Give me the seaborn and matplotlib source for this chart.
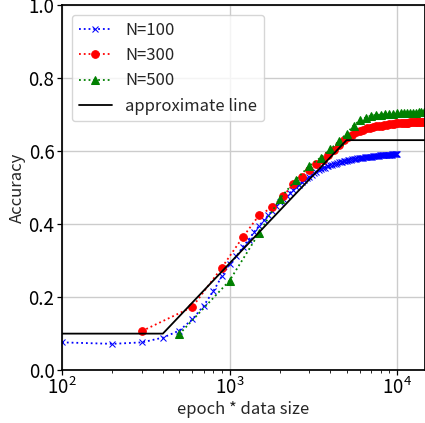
import numpy as np
import pandas as pd
import seaborn as sns
import matplotlib
matplotlib.use("Agg")
import matplotlib.pyplot as plt

# Estilo
sns.set_theme(style="ticks")
plt.rcParams['font.family'] = ['Noto Sans CJK JP', 'DejaVu Sans']

# Dados (accuracy por epoch, N = tamanho dos dados)
acc_n100 = [
    0.076, 0.072, 0.076, 0.089, 0.108, 0.139, 0.176, 0.216, 0.257, 0.290,
    0.312, 0.338, 0.357, 0.378, 0.395, 0.410, 0.424, 0.437, 0.449, 0.460,
    0.469, 0.478, 0.486, 0.494, 0.501, 0.508, 0.514, 0.520, 0.525, 0.530,
    0.535, 0.539, 0.543, 0.547, 0.550, 0.553, 0.555, 0.558, 0.560, 0.562,
    0.563, 0.565, 0.566, 0.567, 0.569, 0.570, 0.571, 0.572, 0.573, 0.574,
    0.575, 0.576, 0.576, 0.577, 0.578, 0.578, 0.579, 0.580, 0.580, 0.581,
    0.581, 0.582, 0.582, 0.583, 0.583, 0.583, 0.584, 0.584, 0.585, 0.585,
    0.585, 0.586, 0.586, 0.586, 0.587, 0.587, 0.587, 0.587, 0.588, 0.588,
    0.588, 0.588, 0.589, 0.589, 0.589, 0.589, 0.589, 0.590, 0.590, 0.590,
    0.590, 0.590, 0.590, 0.591, 0.591, 0.591, 0.591, 0.591, 0.591, 0.592,
]
acc_n300 = [
    0.107, 0.173, 0.281, 0.364, 0.424, 0.446, 0.478, 0.509, 0.530, 0.548,
    0.564, 0.576, 0.590, 0.604, 0.618, 0.630, 0.638, 0.645, 0.651, 0.656,
    0.659, 0.662, 0.664, 0.666, 0.668, 0.669, 0.670, 0.671, 0.672, 0.673,
    0.674, 0.675, 0.676, 0.676, 0.677, 0.677, 0.678, 0.678, 0.678, 0.679,
    0.679, 0.679, 0.680, 0.680, 0.680, 0.680, 0.681, 0.681,
]
acc_n500 = [
    0.098, 0.245, 0.375, 0.470, 0.522, 0.560, 0.582, 0.605, 0.627, 0.648,
    0.670, 0.684, 0.692, 0.697, 0.699, 0.700, 0.701, 0.702, 0.702, 0.703,
    0.703, 0.704, 0.704, 0.705, 0.705, 0.705, 0.706, 0.706, 0.706,
]
approx_x = [100, 400, 5000, 20000]
approx_y = [0.10, 0.10, 0.63, 0.63]

series = [
    (100, acc_n100, "blue", "x", 5),
    (300, acc_n300, "red", "o", 5.5),
    (500, acc_n500, "green", "^", 5.5),
]

fig, ax = plt.subplots(figsize=(4.25, 4.23), dpi=100)
fig.subplots_adjust(left=0.146, right=1.0, top=0.988, bottom=0.125)

for n, acc, color, marker, ms in series:
    epochs = np.arange(1, len(acc) + 1)
    df = pd.DataFrame({"x": epochs * n, "acc": acc})
    sns.lineplot(data=df, x="x", y="acc", ax=ax, color=color, linestyle=":",
                 marker=marker, markersize=ms, markeredgecolor=color,
                 linewidth=1.3, label=f"N={n}")

sns.lineplot(x=approx_x, y=approx_y, ax=ax, color="black", linewidth=1.3,
             label="approximate line")

ax.set_xscale("log")
ax.set_xlim(100, 14700)
ax.set_ylim(0, 1.0)
ax.set_yticks([0.0, 0.2, 0.4, 0.6, 0.8, 1.0])
ax.grid(True, which="major", color="#cccccc", linewidth=1)
ax.set_axisbelow(True)
ax.tick_params(labelsize=13.5, colors="black", pad=2)
ax.tick_params(which="major", length=3.5, width=0.9)
ax.tick_params(which="minor", length=2, width=0.7)
ax.set_xlabel("epoch * data size", fontsize=12, labelpad=1)
ax.set_ylabel("Accuracy", fontsize=12, labelpad=2)
for s in ax.spines.values():
    s.set_color("black")

ax.legend(loc="upper left", fontsize=12, framealpha=0.8, edgecolor="#cccccc",
          borderaxespad=0.6)

plt.savefig("out.png", dpi=100)
